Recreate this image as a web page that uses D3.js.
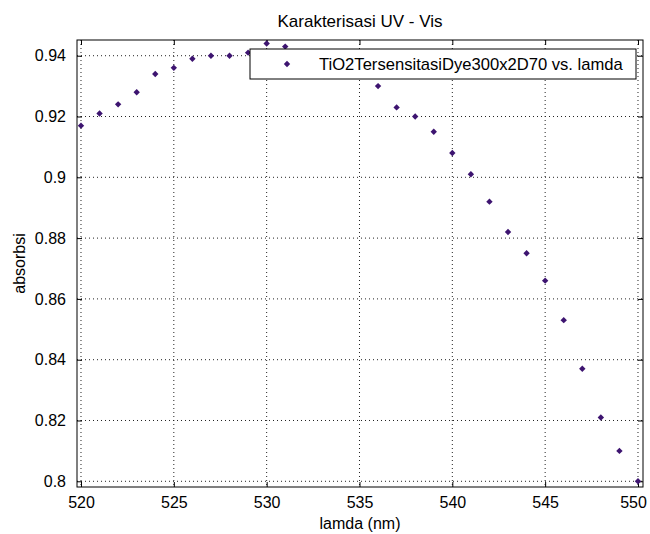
<!DOCTYPE html>
<html>
<head>
<meta charset="utf-8">
<script src="https://d3js.org/d3.v7.min.js"></script>
<style>
    body { margin: 0; background: #fff; }
    text { font-family: "Liberation Sans", Arial, sans-serif; fill: #000; }
</style>
</head>
<body>
<svg></svg>
<script>
// wavelength (nm) and absorbance
let lamda = [520, 521, 522, 523, 524, 525, 526, 527, 528, 529, 530,
    531, 532, 533, 534, 535, 536, 537, 538, 539, 540,
    541, 542, 543, 544, 545, 546, 547, 548, 549, 550];
let absorbsi = [0.917, 0.921, 0.924, 0.928, 0.934, 0.936, 0.939, 0.940, 0.940, 0.941, 0.944,
    0.943, 0.941, 0.939, 0.937, 0.934, 0.930, 0.923, 0.920, 0.915, 0.908,
    0.901, 0.892, 0.882, 0.875, 0.866, 0.853, 0.837, 0.821, 0.810, 0.800];
let xTicks = [520, 525, 530, 535, 540, 545, 550];
let yTicks = [0.8, 0.82, 0.84, 0.86, 0.88, 0.9, 0.92, 0.94];
let seriesName = "TiO2TersensitasiDye300x2D70 vs. lamda";
let title = "Karakterisasi UV - Vis";
let xLabel = "lamda (nm)";
let yLabel = "absorbsi";

let width = 650,
    height = 534,
    pLeft = 77, pRight = 643, pTop = 40, pBottom = 487,
    tickLen = 5,
    markColor = '#3d1470';

let data = lamda.map((d, i) => ({ x: d, y: absorbsi[i] }));

let x = d3.scaleLinear()
    .domain([519.785, 550.27])
    .range([pLeft, pRight]);

let y = d3.scaleLinear()
    .domain([0.79812, 0.94517])
    .range([pBottom, pTop]);

let svg = d3.select('svg')
    .attr('width', width)
    .attr('height', height);

svg.append('rect')
    .attr('width', width)
    .attr('height', height)
    .attr('fill', '#fff');

let g = svg.append('g');

// dotted grid
g.selectAll('.gx')
    .data(xTicks).enter()
    .append('line')
    .attr('x1', d => x(d)).attr('x2', d => x(d))
    .attr('y1', pTop).attr('y2', pBottom)
    .attr('stroke', '#222')
    .attr('stroke-dasharray', '1,3');

g.selectAll('.gy')
    .data(yTicks).enter()
    .append('line')
    .attr('x1', pLeft).attr('x2', pRight)
    .attr('y1', d => y(d)).attr('y2', d => y(d))
    .attr('stroke', '#222')
    .attr('stroke-dasharray', '1,3');

// axes with inward ticks on all four sides
let fmt = d => String(+d.toFixed(2));

let xAxis = g.append('g')
    .attr('transform', 'translate(0,' + pBottom + ')')
    .call(d3.axisBottom(x).tickValues(xTicks).tickSizeInner(-tickLen).tickSizeOuter(0).tickPadding(10));
let xTop = g.append('g')
    .attr('transform', 'translate(0,' + pTop + ')')
    .call(d3.axisTop(x).tickValues(xTicks).tickSizeInner(-tickLen).tickSizeOuter(0).tickFormat(''));
let yAxis = g.append('g')
    .attr('transform', 'translate(' + pLeft + ',0)')
    .call(d3.axisLeft(y).tickValues(yTicks).tickSizeInner(-tickLen).tickSizeOuter(0).tickPadding(11).tickFormat(fmt));
let yRight = g.append('g')
    .attr('transform', 'translate(' + pRight + ',0)')
    .call(d3.axisRight(y).tickValues(yTicks).tickSizeInner(-tickLen).tickSizeOuter(0).tickFormat(''));

[xAxis, xTop, yAxis, yRight].forEach(a => {
    a.select('.domain').remove();
    a.selectAll('line').attr('stroke', '#000');
    a.selectAll('text').style('font-size', '16px').attr('fill', '#000');
});
xAxis.selectAll('text').attr('dy', '0.71em');
// last label sits against the page edge in the scan
xAxis.selectAll('text').filter(d => d === 550).attr('dx', -5);

g.append('rect')
    .attr('x', pLeft).attr('y', pTop)
    .attr('width', pRight - pLeft).attr('height', pBottom - pTop)
    .attr('fill', 'none')
    .attr('stroke', '#000');

// points
let diamond = d3.symbol().type(d3.symbolDiamond2).size(26);
g.selectAll('.pt')
    .data(data).enter()
    .append('path')
    .attr('d', diamond)
    .attr('transform', d => 'translate(' + x(d.x) + ',' + y(d.y) + ')')
    .attr('fill', markColor);

// legend, top right inside the axes
let legW = 386, legH = 30;
let leg = g.append('g')
    .attr('transform', 'translate(' + (pRight - 7 - legW) + ',' + (pTop + 9) + ')');
leg.append('rect')
    .attr('width', legW).attr('height', legH)
    .attr('fill', '#fff')
    .attr('stroke', '#000');
leg.append('path')
    .attr('d', diamond)
    .attr('transform', 'translate(37,' + legH / 2 + ')')
    .attr('fill', markColor);
leg.append('text')
    .attr('x', 69).attr('y', legH / 2)
    .attr('dy', '0.36em')
    .style('font-size', '16.6px')
    .text(seriesName);

// labels
svg.append('text')
    .attr('x', (pLeft + pRight) / 2).attr('y', 27)
    .attr('text-anchor', 'middle')
    .style('font-size', '17px')
    .text(title);

svg.append('text')
    .attr('x', (pLeft + pRight) / 2).attr('y', 529)
    .attr('text-anchor', 'middle')
    .style('font-size', '16px')
    .text(xLabel);

svg.append('text')
    .attr('transform', 'translate(25,' + (pTop + pBottom) / 2 + ')rotate(-90)')
    .attr('text-anchor', 'middle')
    .style('font-size', '16px')
    .text(yLabel);
</script>
</body>
</html>
